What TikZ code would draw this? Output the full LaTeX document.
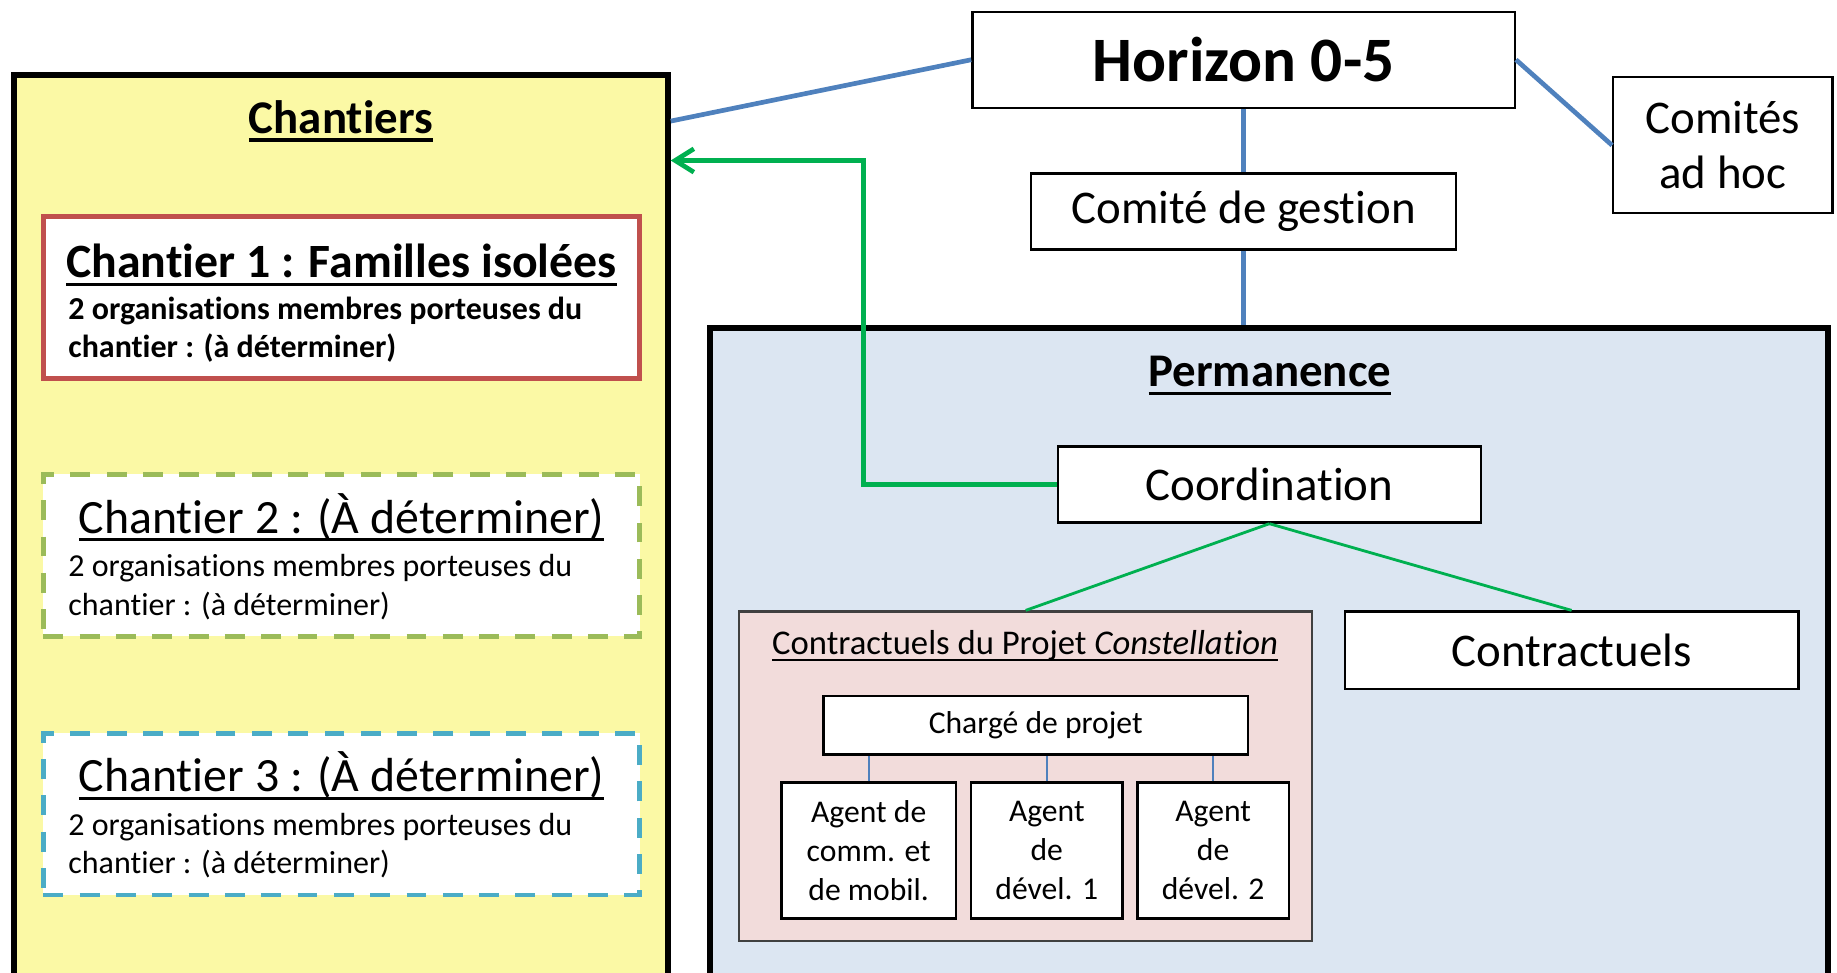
\documentclass[tikz,border=0pt]{standalone}
\usepackage{fontspec}
\setmainfont{Carlito}[Ligatures=NoCommon]
\usetikzlibrary{positioning, arrows.meta}

\definecolor{jaune}{HTML}{FBF9A5}
\definecolor{bleupale}{HTML}{DCE6F2}
\definecolor{rose}{HTML}{F2DCDB}
\definecolor{rouge}{HTML}{C0504D}
\definecolor{vertclair}{HTML}{9BBB59}
\definecolor{turquoise}{HTML}{4BACC6}
\definecolor{lienbleu}{HTML}{4F81BD}
\definecolor{vert}{HTML}{00B050}
\definecolor{grisfonce}{HTML}{404040}

\newcommand\hzfont{\fontsize{27pt}{32pt}\selectfont}
\newcommand\bigfont{\fontsize{20pt}{23.5pt}\selectfont}
\newcommand\titrefont{\fontsize{20.4pt}{24pt}\selectfont}
\newcommand\subfont{\fontsize{13.65pt}{16.5pt}\selectfont}
\newcommand\cdpcfont{\fontsize{14.8pt}{18pt}\selectfont}
\newcommand\agentfont{\fontsize{13.5pt}{16.5pt}\selectfont}
% soulignement plus proche de la ligne de base que \underline
\newcommand\souligne[1]{\setbox0\hbox{#1}\rlap{\rule[-0.17em]{\wd0}{0.065em}}\box0}

\tikzset{
  box/.style={draw, line width=1pt, fill=white, inner sep=0pt, align=center},
  cadre/.style={draw, line width=2.5pt, inner sep=0pt},
  chantierbox/.style={draw, line width=2pt, fill=white, inner sep=0pt,
    minimum width=254.5pt, minimum height=69pt},
  liaison/.style={draw=lienbleu, line width=2pt},
  fleche/.style={draw=vert, line width=2pt, -{Straight Barb[length=8pt,width=10pt]}},
  lienvert/.style={draw=vert, line width=1.2pt},
  lienfin/.style={draw=lienbleu, line width=0.7pt}
}

\begin{document}
\begin{tikzpicture}[x=0.5pt, y=-0.5pt]
\path[use as bounding box, clip] (0,0) rectangle (1568,830);

% les deux grands cadres
\node[cadre, fill=jaune, minimum width=279pt, minimum height=408pt] (chantiers) at (291,472) {};
\node[cadre, fill=bleupale, minimum width=477pt, minimum height=300pt] (permanence) at (1083,580) {};

\node[anchor=base, font=\bigfont\bfseries] (chtitre) at (291,114) {\souligne{Chantiers}};

% chantier 1
\node[chantierbox, draw=rouge] (c1) at (291.5,254) {};
\node[anchor=base, font=\titrefont\bfseries] (c1titre) at (291.5,237) {\souligne{Chantier 1 : Familles isolées}};
\node[anchor=base west, inner sep=0pt, font=\subfont\bfseries] (c1ligne1) at (58,273) {2 organisations membres porteuses du};
\node[anchor=base west, inner sep=0pt, font=\subfont\bfseries] (c1ligne2) at (58,305) {chantier : (à déterminer)};

% chantiers 2 et 3, en pointilles
\foreach \n/\y/\couleur in {2/474/vertclair, 3/695/turquoise}{
  \node[chantierbox, draw=\couleur, dash pattern=on 8.5pt off 7pt] (c\n) at (291.5,\y) {};
  \node[anchor=base, font=\titrefont] (c\n titre) at (291.5,\y-19) {\souligne{Chantier \n\ : (À déterminer)}};
  \node[anchor=base west, inner sep=0pt, font=\subfont] (c\n ligne1) at (58,\y+18) {2 organisations membres porteuses du};
  \node[anchor=base west, inner sep=0pt, font=\subfont] (c\n ligne2) at (58,\y+51) {chantier : (à déterminer)};
}

% gouvernance
\node[box, minimum width=231.5pt, minimum height=41pt, font=\hzfont\bfseries] (horizon) at (1061.5,51) {Horizon 0-5};
\node[box, minimum width=93.5pt, minimum height=58pt, font=\bigfont] (comites) at (1470.5,124) {Comités\\ad hoc};
\node[box, minimum width=181.5pt, minimum height=32.5pt, font=\bigfont] (gestion) at (1061.5,180.5) {Comité de gestion};

% permanence
\node[anchor=base, font=\bigfont\bfseries] (pertitre) at (1084,330) {\souligne{Permanence}};
\node[box, minimum width=180.5pt, minimum height=32.5pt, font=\bigfont] (coord) at (1083.5,413.5) {Coordination};
\node[draw=grisfonce, line width=1pt, fill=rose, inner sep=0pt, minimum width=244.5pt, minimum height=140.5pt] (projet) at (875.5,662.5) {};
\node[anchor=base, font=\cdpcfont] (projtitre) at (875,559) {\souligne{Contractuels du Projet \textit{Constellation}}};
\node[box, minimum width=193.5pt, minimum height=33pt, font=\bigfont] (contr) at (1341.5,555) {Contractuels};
\node[box, minimum width=181pt, minimum height=25pt, font=\agentfont] (charge) at (884,619) {Chargé de projet};
\node[box, minimum width=74.5pt, minimum height=58pt, font=\agentfont] (agent1) at (741.5,726) {Agent de\\comm. et\\de mobil.};
\node[box, minimum width=64.5pt, minimum height=58pt, font=\agentfont] (agent2) at (893.5,726) {Agent\\de\\dével. 1};
\node[box, minimum width=64.5pt, minimum height=58pt, font=\agentfont] (agent3) at (1035.5,726) {Agent\\de\\dével. 2};

% liens
\draw[liaison] (chtitre -| chantiers.east) -- (horizon.west);
\draw[liaison] (horizon.east) -- (comites.west);
\draw[liaison] (horizon.south) -- (gestion.north);
\draw[liaison] (gestion.south) -- (gestion.south |- permanence.north);

\coordinate (coude) at (737,137);
\draw[fleche] (coord.west) -| (coude) -- (coude -| chantiers.east);

\draw[lienvert] (coord.south) -- (projet.north);
\draw[lienvert] (coord.south) -- (contr.north);
\foreach \a in {1,2,3}
  \draw[lienfin] (agent\a.north) -- (agent\a.north |- charge.south);

\end{tikzpicture}
\end{document}
